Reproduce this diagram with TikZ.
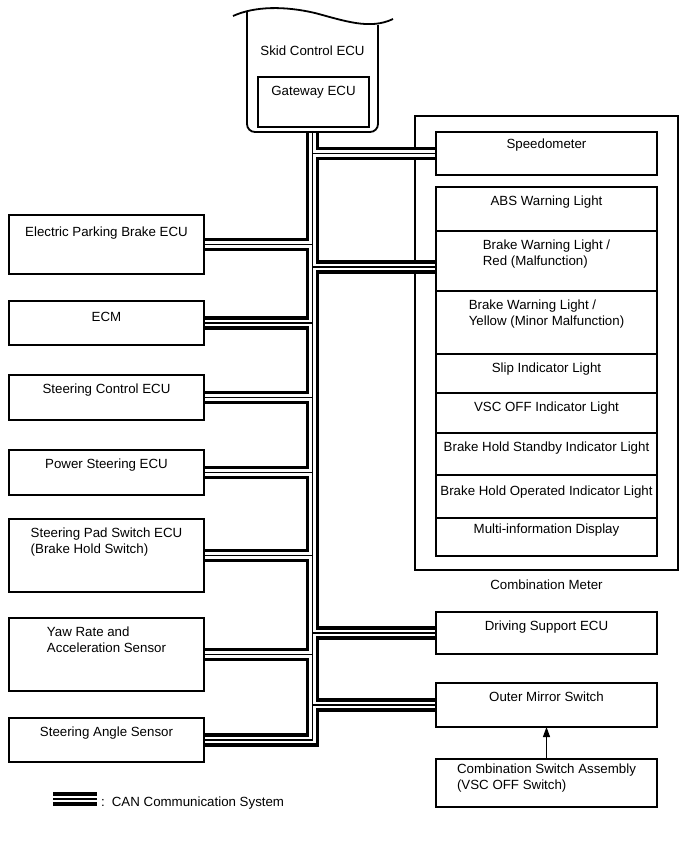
\documentclass[tikz,border=0pt]{standalone}
\usepackage{fontspec}
\setmainfont{Liberation Sans}
\usetikzlibrary{positioning,arrows.meta}

\newcommand{\boxfont}{\fontsize{13.3}{16}\selectfont}

\pgfdeclarelayer{back}
\pgfdeclarelayer{bus}
\pgfsetlayers{back,bus,main}

\tikzset{
  unit/.style={draw, line width=1.8pt, inner sep=0pt, outer sep=0pt, anchor=north west},
  leftunit/.style={unit, minimum width=195pt},
  rightunit/.style={unit, minimum width=221pt},
  lbl/.style={anchor=north, inner sep=0pt, yshift=-9pt, align=left, font=\boxfont},
  canbus/.style={draw=black, line width=13.5pt,
    postaction={draw=white, line width=6.8pt},
    postaction={draw=black, line width=1.2pt}},
  sig/.style={line width=1pt, -{Triangle[length=10pt,width=7pt]}},
}

\begin{document}
\begin{tikzpicture}[x=1pt, y=-1pt]

\useasboundingbox (0,0) rectangle (691,854);

% Skid Control ECU with Gateway ECU inside
\node[minimum width=131pt, minimum height=120pt, inner sep=0pt, outer sep=0pt, anchor=north west,
      label={[lbl, yshift=-25pt]north:Skid Control ECU}] (skid) at (247,12) {};
\draw[line width=1.8pt] (233,16) .. controls (255,6) and (285,6) .. (315,13)
                        .. controls (345,21) and (370,30) .. (393,19);
\draw[line width=1.8pt, rounded corners=8pt] (247,11) -- (skid.south west) -- (skid.south east) -- (378,25);
\node[unit, minimum width=111pt, minimum height=50pt, label={[lbl]north:Gateway ECU}] (gw) at (258,77) {};

% Left column
\node[leftunit, minimum height=59pt, label={[lbl, yshift=-3pt]north:Electric Parking Brake ECU}] (epb) at (9,215) {};
\node[leftunit, minimum height=44pt, label={[lbl, yshift=-2pt]north:ECM}] (ecm) at (9,301) {};
\node[leftunit, minimum height=45pt, label={[lbl]north:Steering Control ECU}] (sce) at (9,375) {};
\node[leftunit, minimum height=45pt, label={[lbl]north:Power Steering ECU}] (pse) at (9,450) {};
\node[leftunit, minimum height=73pt, label={[lbl]north:{Steering Pad Switch ECU\\(Brake Hold Switch)}}] (pad) at (9,519) {};
\node[leftunit, minimum height=73pt, label={[lbl]north:{Yaw Rate and\\Acceleration Sensor}}] (yaw) at (9,618) {};
\node[leftunit, minimum height=44pt, label={[lbl]north:Steering Angle Sensor}] (sas) at (9,718) {};

% Combination Meter
\begin{pgfonlayer}{back}
\node[draw, line width=1.2pt, inner sep=0pt, outer sep=0pt, anchor=north west,
      minimum width=263pt, minimum height=454pt,
      label={[lbl, yshift=-1pt]south:Combination Meter}] (meter) at (415,116) {};
\end{pgfonlayer}
\node[rightunit, minimum height=43pt, label={[lbl, yshift=2pt]north:Speedometer}] (spd) at (436,132) {};
\node[rightunit, minimum height=44pt, label={[lbl]north:ABS Warning Light}] (abs) at (436,187) {};
\node[rightunit, minimum height=60pt, below=0pt of abs,
      label={[lbl]north:{Brake Warning Light /\\Red (Malfunction)}}] (red) {};
\node[rightunit, minimum height=63pt, below=0pt of red,
      label={[lbl]north:{Brake Warning Light /\\Yellow (Minor Malfunction)}}] (yel) {};
\node[rightunit, minimum height=39pt, below=0pt of yel, label={[lbl]north:Slip Indicator Light}] (slip) {};
\node[rightunit, minimum height=40pt, below=0pt of slip, label={[lbl]north:VSC OFF Indicator Light}] (vsc) {};
\node[rightunit, minimum height=42pt, below=0pt of vsc, label={[lbl]north:Brake Hold Standby Indicator Light}] (stby) {};
\node[rightunit, minimum height=43pt, below=0pt of stby, label={[lbl, yshift=-2pt]north:Brake Hold Operated Indicator Light}] (oper) {};
\node[rightunit, minimum height=38pt, below=0pt of oper, label={[lbl, yshift=3pt]north:Multi-information Display}] (mid) {};

% Right column below the meter
\node[rightunit, minimum height=42pt, label={[lbl]north:Driving Support ECU}] (drv) at (436,612) {};
\node[rightunit, minimum height=44pt, label={[lbl]north:Outer Mirror Switch}] (mirror) at (436,683) {};
\node[rightunit, minimum height=48pt, label={[lbl, yshift=4pt]north:{Combination Switch Assembly\\(VSC OFF Switch)}}] (comb) at (436,759) {};

% Signal from switch to mirror switch
\draw[sig] (comb.north) -- (mirror.south);

% CAN bus
\coordinate (redin) at ([yshift=-6pt]red.west);
\begin{pgfonlayer}{bus}
\draw[canbus]
  (skid.south) -- (sas.east -| skid.south) -- (sas.east)
  (epb.east) -- (epb.east -| skid.south)
  (ecm.east) -- (ecm.east -| skid.south)
  (sce.east) -- (sce.east -| skid.south)
  (pse.east) -- (pse.east -| skid.south)
  (pad.east) -- (pad.east -| skid.south)
  (yaw.east) -- (yaw.east -| skid.south)
  (spd.west) -- (spd.west -| skid.south)
  (redin) -- (redin -| skid.south)
  (drv.west) -- (drv.west -| skid.south)
  (mirror.west) -- (mirror.west -| skid.south);
\end{pgfonlayer}

% Legend
\coordinate (legA) at (53,799);
\coordinate (legB) at (97,799);
\draw[canbus] (legA) -- (legB);
\node[anchor=base west, inner sep=0pt, font=\boxfont] (legtext) at (101,806) {:\hspace{7pt}CAN Communication System};

\end{tikzpicture}
\end{document}
